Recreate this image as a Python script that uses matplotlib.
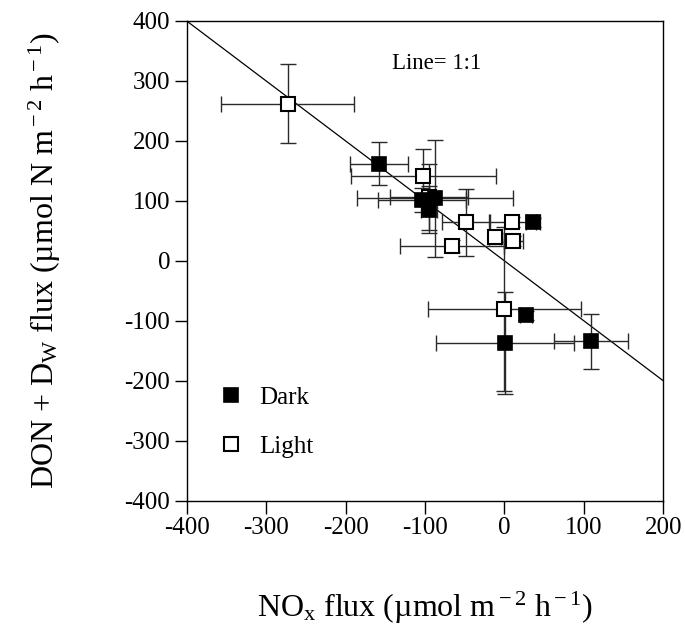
import matplotlib
matplotlib.use("Agg")
import matplotlib.pyplot as plt

plt.rcParams['font.family'] = ['Liberation Serif', 'DejaVu Serif']
plt.rcParams['mathtext.fontset'] = 'custom'
plt.rcParams['mathtext.rm'] = 'Liberation Serif'
plt.rcParams['mathtext.it'] = 'Liberation Serif:italic'
plt.rcParams['axes.unicode_minus'] = False

# Dark incubations
dark_x = [-158, -104, -87, -95, 36, 27, 1, 109]
dark_y = [162, 101, 104, 85, 64, -91, -137, -134]
dark_xerr = [36, 55, 98, 10, 9, 8, 87, 46]
dark_yerr = [36, 20, 97, 39, 8, 8, 85, 46]

# Light incubations
light_x = [-273, -102, -95, -48, 10, -12, 11, -66, 0]
light_y = [262, 142, 107, 64, 65, 39, 33, 25, -80]
light_xerr = [84, 91, 49, 30, 30, 8, 12, 65, 96]
light_yerr = [66, 45, 55, 56, 8, 8, 8, 10, 137]

# 1:1 line end points
line_x = [-400, 200]
line_y = [400, -200]

fig = plt.figure(figsize=(6.85, 6.36), dpi=100)
ax = fig.add_axes([0.2726, 0.2127, 0.6957, 0.7543])

ax.plot(line_x, line_y, color='black', lw=0.9, zorder=1)

eb_style = dict(fmt='none', ecolor='#2a2a2a', elinewidth=1.0, capsize=6, capthick=1.0, zorder=2)
ax.errorbar(light_x, light_y, xerr=light_xerr, yerr=light_yerr, **eb_style)
ax.errorbar(dark_x, dark_y, xerr=dark_xerr, yerr=dark_yerr, **eb_style)

ax.plot(dark_x, dark_y, 's', ms=10, mfc='black', mec='black', mew=1.2,
        ls='none', label='Dark', zorder=4)
ax.plot(light_x, light_y, 's', ms=10, mfc='white', mec='black', mew=1.5,
        ls='none', label='Light', zorder=3)

ax.set_xlim(-400, 200)
ax.set_ylim(-400, 400)
ax.set_xticks([-400, -300, -200, -100, 0, 100, 200])
ax.set_yticks([-400, -300, -200, -100, 0, 100, 200, 300, 400])
ax.tick_params(direction='out', length=9, width=1, labelsize=18, pad=3)
for s in ax.spines.values():
    s.set_linewidth(1.0)

ax.set_xlabel(r'NO$_{\rm x}$ flux (µmol m$^{\rm -2}$ h$^{\rm -1}$)', fontsize=23, labelpad=36)
ax.set_ylabel(r'DON + D$_{\rm W}$ flux (µmol N m$^{\rm -2}$ h$^{\rm -1}$)', fontsize=23, labelpad=44)

ax.text(0.43, 0.912, 'Line= 1:1', transform=ax.transAxes, fontsize=16.5, va='center')

ax.legend(loc='upper left', bbox_to_anchor=(0.02, 0.285), frameon=False, fontsize=18,
          markerscale=1.0, labelspacing=1.05, handletextpad=0.6, handlelength=1.0)

fig.savefig('out.png', dpi=100)
